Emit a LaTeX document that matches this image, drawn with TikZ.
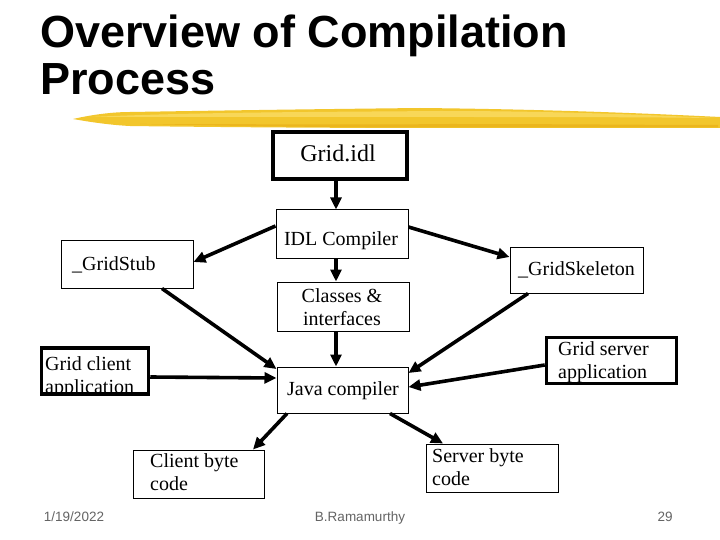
\documentclass[tikz,border=0pt]{standalone}
\usepackage{fontspec}
\setmainfont{Liberation Serif}
\setsansfont{Liberation Sans}
\usetikzlibrary{arrows.meta,calc}
\definecolor{brushyellow}{RGB}{242,198,44}
\definecolor{brushlight}{RGB}{250,220,100}
\definecolor{brushdark}{RGB}{234,178,26}
\definecolor{footgray}{RGB}{100,100,100}
\newcommand\twoline[2]{\begin{tabular}[t]{@{}l@{}}#1\\#2\end{tabular}}
\newcommand\twolinec[2]{\begin{tabular}[t]{@{}c@{}}#1\\#2\end{tabular}}
\begin{document}
\begin{tikzpicture}[x=1pt,y=-1pt,
  box/.style={draw, line width=1pt, inner sep=0pt},
  thickbox/.style={draw, line width=3.5pt, inner sep=0pt},
  txt/.style={inner sep=0pt, font=\fontsize{20}{23}\selectfont},
  arr/.style={line width=3.6pt, -{Triangle[length=12pt,width=11pt]}},
  foot/.style={inner sep=0pt, font=\sffamily\fontsize{13.5}{16}\selectfont, text=footgray},
  title/.style={inner sep=0pt, anchor=base west, font=\sffamily\bfseries\fontsize{45}{47}\selectfont}]
\useasboundingbox (0,0) rectangle (720,540);
\fill[white] (0,0) rectangle (720,540);

% title
\node[title] (t1) at (40,48) {Overview of Compilation};
\node[title] (t2) at (40,95) {Process};

% brush stroke
\fill[brushyellow] (73,119) .. controls (95,114) and (115,112) .. (130,112)
  .. controls (250,110) and (330,109) .. (420,108)
  .. controls (520,109) and (620,112) .. (720,117) -- (720,128)
  .. controls (620,128) and (520,128) .. (420,128)
  .. controls (330,128) and (200,127) .. (130,126)
  .. controls (110,125) and (90,122) .. cycle;
\fill[brushlight, opacity=0.8] (90,117) .. controls (200,112) and (320,112) .. (440,111)
  .. controls (540,111) and (630,114) .. (715,118)
  .. controls (630,117) and (540,117) .. (440,117)
  .. controls (320,117) and (200,117) .. cycle;
\fill[brushdark, opacity=0.8] (140,124) .. controls (250,124) and (350,125) .. (450,124)
  .. controls (560,124) and (650,125) .. (718,125) -- (718,127.5)
  .. controls (620,127.5) and (520,127.5) .. (450,127.5)
  .. controls (350,127.5) and (250,126.5) .. cycle;

% boxes
\node[thickbox, minimum width=134pt, minimum height=47pt] (gidl) at (340,155.5) {};
\node[box, minimum width=132pt, minimum height=48pt] (idlc) at (342,234) {};
\node[box, minimum width=132pt, minimum height=49pt] (cls) at (343,306.5) {};
\node[box, minimum width=132pt, minimum height=48pt] (stub) at (127,264) {};
\node[box, minimum width=133pt, minimum height=46pt] (skel) at (576.5,270) {};
\node[box, minimum width=131pt, minimum height=46pt] (java) at (342.5,390) {};
\node[box, minimum width=131pt, minimum height=48pt] (cbc) at (198.5,474) {};
\node[box, minimum width=132pt, minimum height=48pt] (sbc) at (492,468) {};

% texts
\node[txt, font=\fontsize{24}{28}\selectfont, anchor=base] (gidlt) at (338,162) {Grid.idl};
\node[txt, anchor=base] (idlct) at (341,245) {IDL Compiler};
\node[txt, anchor=base] (clst) at (342,302) {\twolinec{Classes \&}{interfaces}};
\node[txt, anchor=base west] (stubt) at (72,270) {\_GridStub};
\node[txt, anchor=base west] (skelt) at (518,275) {\_GridSkeleton};
\node[txt, anchor=base] (javat) at (343,395) {Java compiler};
\node[txt, anchor=base west] (cbct) at (150,467) {\twoline{Client byte}{code}};
\node[txt, anchor=base west] (sbct) at (432,462) {\twoline{Server byte}{code}};
\begin{scope}
  \clip (40,345) rectangle (151,394);
  \node[txt, anchor=base west] (clientt) at (45,370) {\twoline{Grid client}{application}};
\end{scope}
\node[txt, anchor=base west] (servert) at (558,355) {\twoline{Grid server}{application}};

% thick boxes drawn over their text
\node[thickbox, minimum width=107pt, minimum height=46pt] (client) at (95,371) {};
\node[thickbox, minimum width=130pt, minimum height=46pt] (server) at (611.5,360.5) {};

% connectors
\draw[arr] ($(gidl.south)+(-4,0)$) -- ($(idlc.north)+(-6,0)$);
\draw[arr] ($(idlc.south)+(-6,0)$) -- ($(cls.north)+(-7,0)$);
\draw[arr] ($(idlc.west)+(0,-8)$) -- ($(stub.east)+(0,-2)$);
\draw[arr] ($(idlc.east)+(0,-7)$) -- ($(skel.west)+(0,-13)$);
\draw[arr] ($(stub.south)+(35,0)$) -- ($(java.west)+(0,-21)$);
\draw[arr] ($(client.east)+(0,6)$) -- ($(java.west)+(0,-12)$);
\draw[arr] ($(cls.south)+(-7,0)$) -- ($(java.north)+(-6.5,0)$);
\draw[arr] ($(skel.south)+(-48.5,0)$) -- ($(java.east)+(0,-17)$);
\draw[arr] ($(server.west)+(0,4.5)$) -- ($(java.east)+(0,-3)$);
\draw[arr] ($(java.south)+(-55.5,0)$) -- ($(cbc.north)+(54.5,0)$);
\draw[arr] ($(java.south)+(47.5,0)$) -- ($(sbc.north)+(-49,0)$);

% footer
\node[foot, anchor=base] (date) at (74,521) {1/19/2022};
\node[foot, anchor=base] (author) at (360,521) {B.Ramamurthy};
\node[foot, anchor=base] (page) at (665,521) {29};
\end{tikzpicture}
\end{document}
